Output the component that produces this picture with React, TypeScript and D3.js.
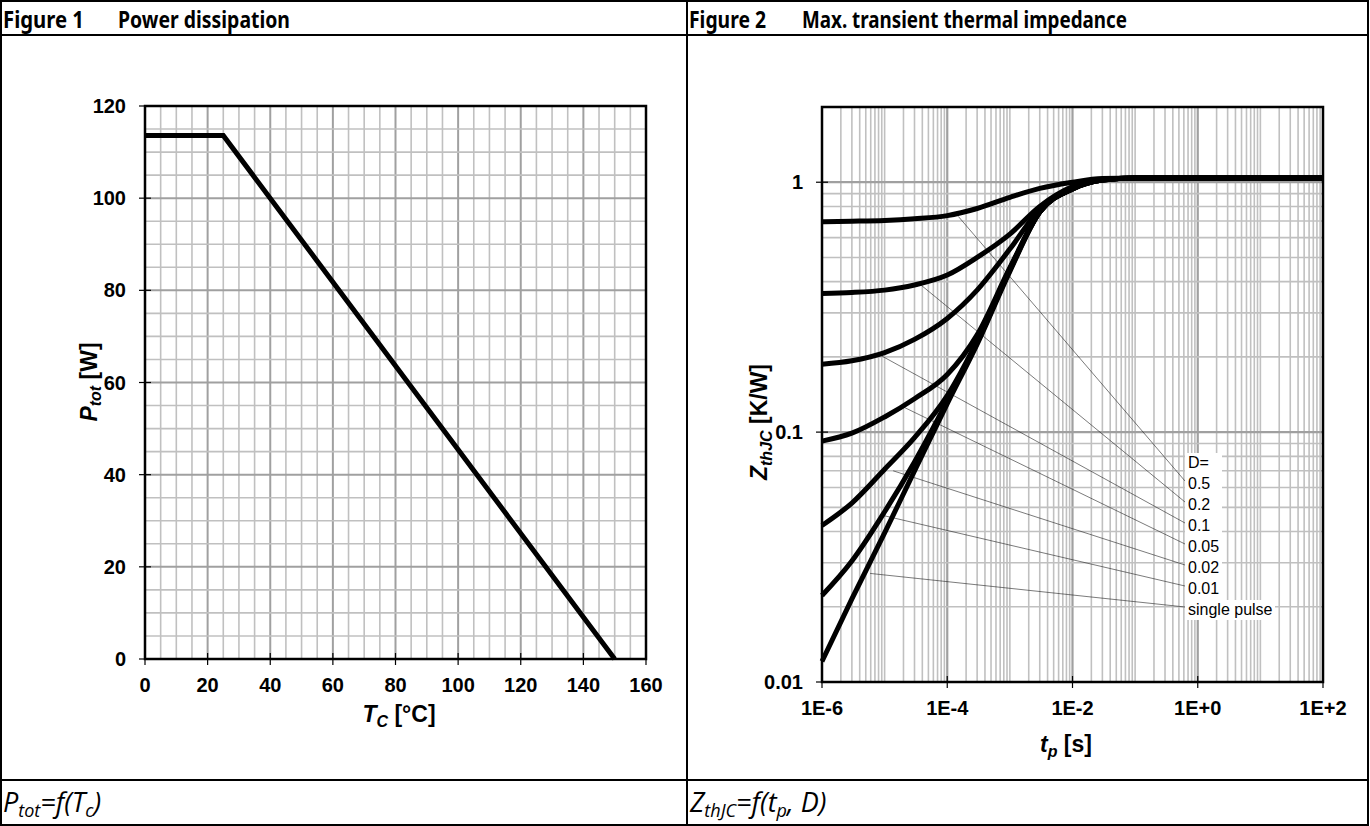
import React from 'react';
import * as d3 from 'd3';

const W = 1370;
const H = 826;

// Figure 1: power dissipation
const tcValues = [0, 25, 150];
const ptotValues = [113.6, 113.6, 0];
const tcTicks = [0, 20, 40, 60, 80, 100, 120, 140, 160];
const ptotTicks = [0, 20, 40, 60, 80, 100, 120];

// Figure 2: transient thermal impedance
const tpValues = [1e-6, 3e-6, 1e-5, 3e-5, 1e-4, 3e-4, 1e-3, 3e-3, 1e-2, 3e-2, 1e-1, 1e2];
const zD05 = [0.695, 0.698, 0.703, 0.714, 0.735, 0.785, 0.87, 0.945, 1.0, 1.035, 1.04, 1.04];
const zD02 = [0.359, 0.362, 0.37, 0.388, 0.425, 0.5, 0.62, 0.8, 0.96, 1.025, 1.04, 1.04];
const zD01 = [0.187, 0.193, 0.208, 0.235, 0.285, 0.37, 0.54, 0.78, 0.95, 1.02, 1.04, 1.04];
const zD005 = [0.092, 0.099, 0.115, 0.136, 0.17, 0.245, 0.455, 0.76, 0.94, 1.02, 1.04, 1.04];
const zD002 = [0.0423, 0.052, 0.071, 0.095, 0.14, 0.232, 0.45, 0.76, 0.94, 1.02, 1.04, 1.04];
const zD001 = [0.0222, 0.0305, 0.048, 0.076, 0.133, 0.228, 0.445, 0.76, 0.94, 1.02, 1.04, 1.04];
const zSingle = [0.0121, 0.0215, 0.0395, 0.07, 0.13, 0.225, 0.44, 0.76, 0.94, 1.02, 1.04, 1.04];
const zSeries = [zD05, zD02, zD01, zD005, zD002, zD001, zSingle];

const legendLabels = ['0.5', '0.2', '0.1', '0.05', '0.02', '0.01', 'single pulse'];
// where each leader line touches its curve
const leaderT = [1.5e-4, 3.7e-5, 8e-6, 1.76e-5, 1.37e-5, 9.4e-6, 5.86e-6];
const leaderZ = [0.73, 0.39, 0.205, 0.128, 0.07, 0.0464, 0.0272];

const tpTicks = [1e-6, 1e-4, 1e-2, 1, 1e2];
const tpTickLabels = ['1E-6', '1E-4', '1E-2', '1E+0', '1E+2'];
const zTicks = [0.01, 0.1, 1];
const zTickLabels = ['0.01', '0.1', '1'];

const ARIAL = '"Liberation Sans", Arial, sans-serif';
const MINOR = '#c0c0c0';
const MAJOR = '#a0a0a0';
const TICK_FS = 20;
const TITLE_FS = 23;
const SUB_FS = 16;

function PowerChart() {
  const x = d3.scaleLinear().domain([0, 160]).range([145, 646]);
  const y = d3.scaleLinear().domain([0, 120]).range([659, 106]);
  const xs = d3.range(5, 160, 5);
  const ys = d3.range(5, 120, 5);
  const line = d3.line<number>()
    .x((_, i) => x(tcValues[i]))
    .y(d => y(d));

  return (
    <g>
      {xs.map(v => (
        <line key={'gx' + v} x1={x(v)} x2={x(v)} y1={y(0)} y2={y(120)}
          stroke={v % 20 === 0 ? MAJOR : MINOR} strokeWidth={v % 20 === 0 ? 2 : 1.6} />
      ))}
      {ys.map(v => (
        <line key={'gy' + v} x1={x(0)} x2={x(160)} y1={y(v)} y2={y(v)}
          stroke={v % 20 === 0 ? MAJOR : MINOR} strokeWidth={v % 20 === 0 ? 2 : 1.6} />
      ))}
      <rect x={x(0)} y={y(120)} width={x(160) - x(0)} height={y(0) - y(120)}
        fill="none" stroke="#000" strokeWidth={2.5} />
      <path d={line(ptotValues) || ''} fill="none" stroke="#000" strokeWidth={5} />
      {tcTicks.map(v => (
        <g key={'tx' + v}>
          <line x1={x(v)} x2={x(v)} y1={y(0) - 6} y2={y(0) + 6} stroke="#000" strokeWidth={1.2} />
          <text x={x(v)} y={692} textAnchor="middle" fontFamily={ARIAL} fontWeight="bold" fontSize={TICK_FS}>{v}</text>
        </g>
      ))}
      {ptotTicks.map(v => (
        <g key={'ty' + v}>
          <line x1={x(0) - 6} x2={x(0) + 6} y1={y(v)} y2={y(v)} stroke="#000" strokeWidth={1.2} />
          <text x={126} y={y(v) + 7} textAnchor="end" fontFamily={ARIAL} fontWeight="bold" fontSize={TICK_FS}>{v}</text>
        </g>
      ))}
      <text x={399} y={722} textAnchor="middle" fontFamily={ARIAL} fontWeight="bold" fontSize={TITLE_FS}>
        <tspan fontStyle="italic">T</tspan>
        <tspan fontStyle="italic" fontSize={SUB_FS} dy={5}>C</tspan>
        <tspan dy={-5}> [°C]</tspan>
      </text>
      <text transform="translate(97,382) rotate(-90)" textAnchor="middle" fontFamily={ARIAL} fontWeight="bold" fontSize={TITLE_FS}>
        <tspan fontStyle="italic">P</tspan>
        <tspan fontStyle="italic" fontSize={SUB_FS} dy={4}>tot</tspan>
        <tspan dy={-4}> [W]</tspan>
      </text>
    </g>
  );
}

function ImpedanceChart() {
  const x = d3.scaleLog().domain([1e-6, 1e2]).range([822, 1323]);
  const y = d3.scaleLog().domain([0.01, 2]).range([682, 107]);

  const vGrid: { v: number; major: boolean }[] = [];
  for (let k = -6; k <= 1; k++) {
    for (let m = 1; m <= 9; m++) {
      if (k === -6 && m === 1) continue;
      vGrid.push({ v: m * Math.pow(10, k), major: m === 1 && k % 2 === 0 });
    }
  }
  const hGrid: { v: number; major: boolean }[] = [];
  for (let k = -2; k <= 0; k++) {
    for (let m = 1; m <= 9; m++) {
      const v = m * Math.pow(10, k);
      if ((k === -2 && m === 1) || v >= 2) continue;
      hGrid.push({ v, major: m === 1 });
    }
  }

  const line = d3.line<number>()
    .x((_, i) => x(tpValues[i]))
    .y(d => y(d))
    .curve(d3.curveMonotoneX);

  const legendX = 1185;
  const rowY = (i: number) => 463 + 21 * i;

  return (
    <g>
      {vGrid.map(g => (
        <line key={'vx' + g.v} x1={x(g.v)} x2={x(g.v)} y1={y(0.01)} y2={y(2)}
          stroke={g.major ? MAJOR : MINOR} strokeWidth={g.major ? 2.2 : 1.6} />
      ))}
      {hGrid.map(g => (
        <line key={'hy' + g.v} x1={x(1e-6)} x2={x(1e2)} y1={y(g.v)} y2={y(g.v)}
          stroke={g.major ? MAJOR : MINOR} strokeWidth={g.major ? 2.2 : 1.6} />
      ))}
      {legendLabels.map((lab, i) => (
        <line key={'ld' + i} x1={x(leaderT[i])} y1={y(leaderZ[i])} x2={legendX} y2={rowY(i + 1) - 3}
          stroke="#222" strokeWidth={0.6} />
      ))}
      {zSeries.map((s, i) => (
        <path key={'c' + i} d={line(s) || ''} fill="none" stroke="#000" strokeWidth={5} strokeLinejoin="round" />
      ))}
      <rect x={x(1e-6)} y={y(2)} width={x(1e2) - x(1e-6)} height={y(0.01) - y(2)}
        fill="none" stroke="#000" strokeWidth={2.5} />
      <rect x={legendX} y={rowY(0) - 10} width={37} height={21 * 7} fill="#fff" />
      <rect x={legendX} y={rowY(7) - 10} width={90} height={20} fill="#fff" />
      {['D=', ...legendLabels].map((lab, i) => (
        <text key={'lt' + i} x={legendX + 3} y={rowY(i) + 5} fontFamily={ARIAL} fontSize={16}>{lab}</text>
      ))}
      {tpTicks.map((v, i) => (
        <g key={'tx' + i}>
          <line x1={x(v)} x2={x(v)} y1={y(0.01) - 6} y2={y(0.01) + 6} stroke="#000" strokeWidth={1.2} />
          <text x={x(v)} y={715} textAnchor="middle" fontFamily={ARIAL} fontWeight="bold" fontSize={TICK_FS}>{tpTickLabels[i]}</text>
        </g>
      ))}
      {zTicks.map((v, i) => (
        <g key={'ty' + i}>
          <line x1={x(1e-6) - 6} x2={x(1e-6) + 6} y1={y(v)} y2={y(v)} stroke="#000" strokeWidth={1.2} />
          <text x={803} y={y(v) + 7} textAnchor="end" fontFamily={ARIAL} fontWeight="bold" fontSize={TICK_FS}>{zTickLabels[i]}</text>
        </g>
      ))}
      <text x={1066} y={752} textAnchor="middle" fontFamily={ARIAL} fontWeight="bold" fontSize={TITLE_FS}>
        <tspan fontStyle="italic">t</tspan>
        <tspan fontStyle="italic" fontSize={SUB_FS} dy={5}>p</tspan>
        <tspan dy={-5}> [s]</tspan>
      </text>
      <text transform="translate(767,422) rotate(-90)" textAnchor="middle" fontFamily={ARIAL} fontWeight="bold" fontSize={TITLE_FS}>
        <tspan fontStyle="italic">Z</tspan>
        <tspan fontStyle="italic" fontSize={SUB_FS} dy={5}>thJC</tspan>
        <tspan dy={-5}> [K/W]</tspan>
      </text>
    </g>
  );
}

export default function App() {
  const head = { fontFamily: '"Noto Sans", "Open Sans", sans-serif', fontWeight: 700, fontSize: 23 } as const;
  const cap = { fontFamily: '"Open Sans", "Noto Sans", sans-serif', fontStyle: 'italic', fontSize: 27 } as const;
  return (
    <svg width={W} height={H} style={{ position: 'absolute', left: 0, top: 0, background: '#fff' }}>
      <rect x={0} y={0} width={W} height={H} fill="#fff" />
      <PowerChart />
      <ImpedanceChart />
      <rect x={1} y={1} width={1367} height={824} fill="none" stroke="#000" strokeWidth={2} />
      <line x1={1} x2={1368} y1={35} y2={35} stroke="#000" strokeWidth={2} />
      <line x1={1} x2={1368} y1={780} y2={780} stroke="#000" strokeWidth={2} />
      <line x1={687} x2={687} y1={1} y2={825} stroke="#000" strokeWidth={2} />
      <text x={3} y={28} {...head} textLength={81} lengthAdjust="spacingAndGlyphs">Figure 1</text>
      <text x={118} y={28} {...head} textLength={172} lengthAdjust="spacingAndGlyphs">Power dissipation</text>
      <text x={689} y={28} {...head} textLength={77} lengthAdjust="spacingAndGlyphs">Figure 2</text>
      <text x={802} y={28} {...head} textLength={325} lengthAdjust="spacingAndGlyphs">Max. transient thermal impedance</text>
      <text x={3} y={812} {...cap}>
        P<tspan fontSize={18} dy={5}>tot</tspan><tspan dy={-5}>=f(T</tspan><tspan fontSize={18} dy={5}>c</tspan><tspan dy={-5}>)</tspan>
      </text>
      <text x={690} y={812} {...cap}>
        Z<tspan fontSize={18} dy={5}>thJC</tspan><tspan dy={-5}>=f(t</tspan><tspan fontSize={18} dy={5}>p</tspan><tspan dy={-5}>, D)</tspan>
      </text>
    </svg>
  );
}
